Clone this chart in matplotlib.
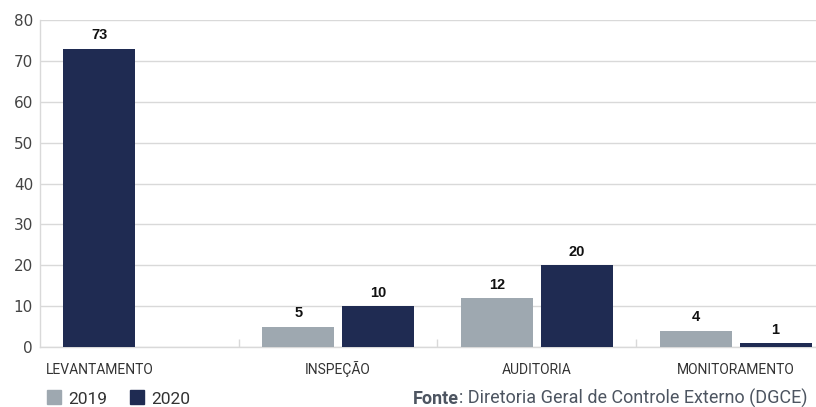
import matplotlib
matplotlib.use("Agg")
import matplotlib.pyplot as plt

categories = ["LEVANTAMENTO", "INSPEÇÃO", "AUDITORIA", "MONITORAMENTO"]
values_2019 = [None, 5, 12, 4]
values_2020 = [73, 10, 20, 1]
years = ["2019", "2020"]
source_label = "Fonte"
source_text = ": Diretoria Geral de Controle Externo (DGCE)"

c2019 = "#9ea8b0"
c2020 = "#1f2b52"
grid_c = "#d9d9d9"
cond = "Roboto"

fig = plt.figure(figsize=(8.16, 4.07), dpi=100)
ax = fig.add_axes([40 / 816, 1 - 347 / 407, 795 / 816, 327 / 407])

w = 0.362
off = 0.201


def bar_label(x, v):
    ax.text(x, v + 2.3, str(v), ha="center", va="baseline",
            fontsize=10.5, fontweight="bold", family="Liberation Sans", color="#111111")


label_x = []
for i, cat in enumerate(categories):
    v19 = values_2019[i]
    v20 = values_2020[i]
    xs = []
    if v19 is not None:
        ax.bar(i - off, v19, width=w, color=c2019, zorder=3)
        bar_label(i - off, v19)
        xs.append(i - off)
        x20 = i + off
    else:
        x20 = i - off
    ax.bar(x20, v20, width=w, color=c2020, zorder=3)
    bar_label(x20, v20)
    xs.append(x20)
    label_x.append(sum(xs) / len(xs))

ax.set_xlim(-0.5, len(categories) - 0.5)
ax.set_ylim(0, 80)
ax.set_yticks(range(0, 81, 10))
ax.set_xticks([])
ax.set_xticks([i + 0.5 for i in range(len(categories) - 1)], minor=True)
ax.tick_params(axis="x", which="minor", direction="in", length=6, color=grid_c, width=1)
ax.tick_params(axis="y", length=0, pad=5)
for lab in ax.get_yticklabels():
    lab.set_fontsize(11)
    lab.set_color("#444444")
    lab.set_family("DejaVu Sans")
ax.yaxis.grid(True, color=grid_c, linewidth=1, zorder=0)
for s in ["top", "right"]:
    ax.spines[s].set_visible(False)
for s in ["left", "bottom"]:
    ax.spines[s].set_color(grid_c)
    ax.spines[s].set_linewidth(1)

for x, cat in zip(label_x, categories):
    ax.text(x, -27 / 327, cat, transform=ax.get_xaxis_transform(), ha="center",
            va="baseline", family=cond, fontsize=10, color="#333333")

# legend
for j, (yr, col) in enumerate(zip(years, [c2019, c2020])):
    x0 = 47 + j * 83
    fig.patches.append(plt.Rectangle((x0 / 816, 1 - 404 / 407), 14 / 816, 14 / 407,
                                     transform=fig.transFigure, color=col))
    fig.text((x0 + 21) / 816, 1 - 404 / 407, yr, family=cond, fontsize=12.5,
             color="#333333", va="baseline", ha="left")

t = fig.text(413 / 816, 1 - 404 / 407, source_label, family=cond, fontsize=13,
             fontweight="bold", color="#4d5561", va="baseline", ha="left")
fig.canvas.draw()
bb = t.get_window_extent()
fig.text(bb.x1 / 816, 1 - 404 / 407, source_text, family=cond, fontsize=13,
         color="#4d5561", va="baseline", ha="left")

fig.savefig("out.png", dpi=100)
